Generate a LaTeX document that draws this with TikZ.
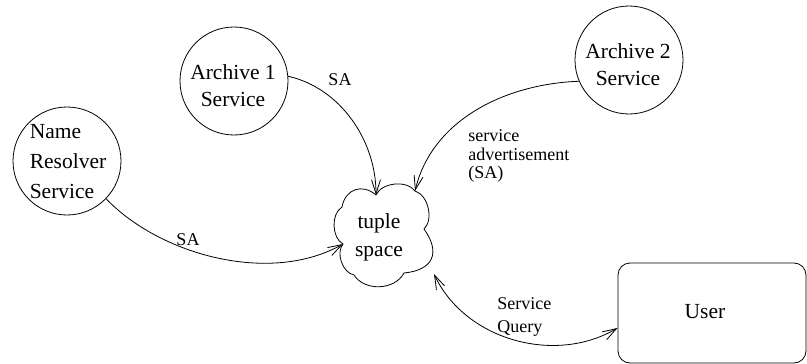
\documentclass[tikz,border=0pt]{standalone}
\usepackage{fontspec}
\setmainfont{Liberation Serif}
\usetikzlibrary{arrows.meta}
\begin{document}
\begin{tikzpicture}[x=1pt,y=-1pt,
  line width=0.8pt,
  svc/.style={draw, circle, minimum size=108pt, inner sep=0pt},
  big/.style={font=\fontsize{21.5}{27}\selectfont, inner sep=0pt, align=center},
  lbl/.style={font=\fontsize{18}{19}\selectfont, inner sep=0pt, align=left},
  barb/.tip={Straight Barb[length=14pt,width=9pt,line width=0.8pt]},
  flow/.style={-barb},
  lobe/.style={bend right=60, looseness=1},
]
\useasboundingbox (0,0) rectangle (807,364);

% services
\node[svc] (nrs) at (67,161) {};
\node[big, align=left, font=\fontsize{21.5}{30}\selectfont] (nrst) at (68,162) {Name\\Resolver\\Service};
\node[svc] (ar1) at (234,81) {};
\node[big] (ar1t) at (233,86) {Archive 1\\Service};
\node[svc] (ar2) at (629,60) {};
\node[big] (ar2t) at (628,65) {Archive 2\\Service};

% tuple space cloud, drawn through the notches between its lobes
\coordinate (n1) at (376,195);
\coordinate (n2) at (342,207);
\coordinate (n3) at (343,244);
\coordinate (n4) at (354,275);
\coordinate (n5) at (404,273);
\coordinate (n6) at (424,229);
\coordinate (n7) at (415,191);
\coordinate (n8) at (434,274);
\draw (n1) to[lobe, looseness=1.3] (n2) to[lobe, looseness=0.9] (n3)
      to[lobe, looseness=0.9] (n4) to[lobe] (n5)
      to[lobe, looseness=1.55] (n6) to[lobe, looseness=0.9] (n7)
      to[lobe, looseness=0.9] (n1);
\node[big, font=\fontsize{21.5}{28}\selectfont] (ts) at (379,237) {tuple\\space};

% user
\node[draw, rounded corners=12pt, minimum width=188pt, minimum height=100pt] (usr) at (712,313) {};
\node[big] (usrt) at (705,312) {User};

% advertisements and query
\draw[flow] (nrs.-44) .. controls (160,255) and (270,285) .. (n3);
\draw[flow] (ar1.5) .. controls (340,88) and (376,140) .. (n1);
\draw[flow] (ar2.203) .. controls (505,84) and (432,120) .. (n7);
\draw[barb-barb] (n8) .. controls (465,340) and (555,365) .. (usr.189);

% labels
\node[lbl] (l1) at (188,240) {SA};
\node[lbl] (l2) at (340,80) {SA};
\node[lbl, anchor=west, font=\fontsize{18}{18.5}\selectfont] (l3) at (468,156) {service\\advertisement\\(SA)};
\node[lbl, anchor=west, font=\fontsize{18}{23}\selectfont] (l4) at (497,317) {Service\\Query};
\end{tikzpicture}
\end{document}
